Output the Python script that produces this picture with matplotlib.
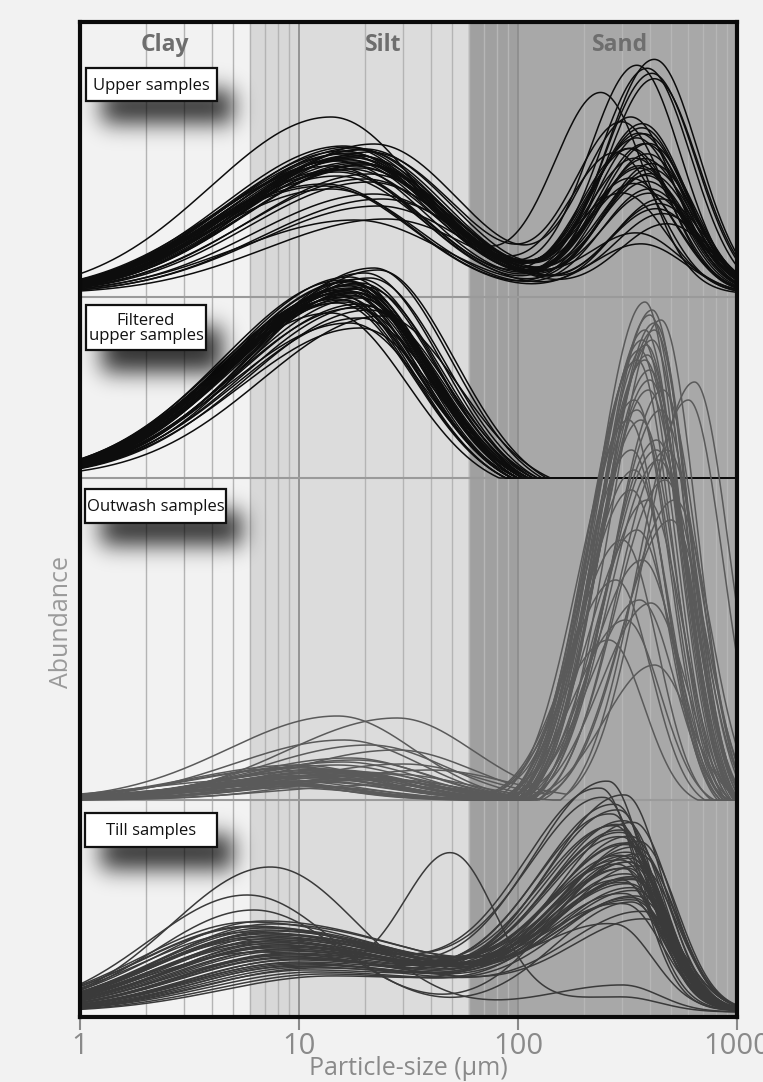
import matplotlib.pyplot as plt
import numpy as np
from matplotlib.patches import Rectangle

plt.rcParams['font.family'] = ['Open Sans', 'DejaVu Sans']

# grain-size modes: mode size in um, height in px above panel baseline
upper_silt_mode = [16, 18, 14, 20, 17, 22, 15, 19, 13, 21, 18, 16, 24, 17, 15, 20, 19, 14, 18, 23,
                   16, 21, 17, 19, 15, 18, 20, 22, 16, 14, 19, 17, 25, 18, 15, 21, 17, 20, 13, 18]
upper_silt_height = [140, 132, 177, 145, 125, 150, 118, 138, 110, 142, 128, 135, 95, 147, 122, 130, 144, 105, 136, 88,
                     148, 120, 141, 126, 133, 139, 115, 100, 143, 128, 131, 137, 75, 146, 124, 112, 134, 129, 108, 74]
upper_sand_mode = [380, 350, 240, 420, 400, 330, 450, 360, 390, 300, 410, 340, 370, 430, 320, 390, 360, 400, 480, 350,
                   380, 410, 300, 440, 370, 330, 395, 350, 420, 360, 385, 280, 400, 345, 375, 460, 330, 390, 365, 405]
upper_sand_height = [150, 228, 200, 234, 120, 175, 95, 160, 140, 170, 130, 110, 165, 85, 145, 225, 125, 105, 70, 155,
                     135, 220, 100, 90, 170, 115, 150, 60, 215, 128, 118, 140, 100, 135, 160, 80, 145, 112, 50, 125]

filtered_mode = [17, 18, 16, 19, 15, 20, 17, 18, 16, 21, 14, 19, 18, 17, 22, 16, 18, 19, 15, 17,
                 20, 18, 16, 19, 17, 23, 18, 16, 20, 17, 19, 15, 18, 21, 17, 16, 19, 18, 24, 17]
filtered_height = [190, 185, 198, 180, 175, 205, 192, 170, 188, 200, 165, 195, 182, 187, 210, 178, 193, 160, 184, 196,
                   172, 189, 181, 199, 155, 208, 186, 176, 191, 183, 150, 179, 194, 168, 197, 186, 174, 189, 162, 201]

outwash_fine_mode = [12, 8, 15, 20, 10, 25, 6, 14, 15, 9, 18, 11, 16, 28, 7, 13, 22, 10, 17, 28, 12, 9, 15, 19,
                     11, 40, 14, 8, 16, 24, 13, 10, 18, 12, 21, 9, 15, 30, 11, 14, 17, 8, 13, 26, 12]
outwash_fine_height = [25, 18, 30, 22, 35, 15, 20, 28, 84, 12, 40, 24, 60, 82, 16, 30, 20, 32, 26, 50, 22, 19, 35, 28,
                       14, 30, 25, 17, 38, 21, 27, 33, 24, 18, 55, 15, 29, 36, 23, 20, 42, 16, 31, 26, 19]
outwash_sand_mode = [380, 420, 350, 450, 400, 320, 480, 370, 600, 340, 410, 390, 300, 460, 360, 430, 280, 400, 500, 350,
                     380, 440, 330, 420, 370, 640, 310, 390, 410, 360, 470, 340, 400, 260, 430, 380, 350, 520, 395, 365,
                     420, 330, 450, 385, 405]
outwash_sand_height = [498, 470, 440, 480, 420, 380, 350, 460, 400, 330, 490, 300, 260, 410, 450, 360, 220, 430, 280, 390,
                       470, 340, 310, 477, 240, 418, 180, 445, 460, 200, 320, 400, 485, 160, 350, 440, 270, 300, 410, 380,
                       135, 350, 390, 455, 197]

till_fine_mode = [7, 8, 6, 9, 7.5, 10, 6.5, 8, 12, 7, 9, 8.5, 6, 11, 7, 8, 9.5, 7, 6.5, 10, 8, 7.5, 13, 9, 6,
                  8, 7, 10.5, 8.5, 7, 9, 6.5, 11, 8, 7.5, 9, 12, 7, 8, 10, 6, 8.5, 7, 9.5, 14, 8, 7]
till_fine_height = [70, 62, 80, 55, 88, 48, 75, 66, 40, 84, 58, 72, 90, 45, 68, 77, 52, 82, 60, 50, 74, 64, 38, 57, 86,
                    69, 79, 47, 63, 91, 54, 73, 42, 67, 81, 59, 44, 76, 65, 53, 85, 61, 71, 49, 36, 56, 78]
till_sand_mode = [320, 300, 340, 280, 330, 360, 310, 290, 350, 320, 260, 340, 300, 380, 330, 310, 270, 350, 320, 290,
                  340, 300, 360, 310, 330, 250, 320, 340, 300, 310, 390, 330, 290, 320, 350, 280, 310, 340, 300, 330,
                  320, 360, 240, 310, 340, 300, 280]
till_sand_height = [150, 175, 130, 200, 120, 165, 185, 140, 110, 160, 222, 125, 145, 95, 170, 135, 190, 115, 155, 180,
                    105, 150, 140, 210, 128, 205, 162, 118, 172, 100, 88, 148, 195, 137, 158, 178, 122, 108, 168, 143,
                    132, 152, 215, 112, 183, 126, 80]
# odd till samples with narrower fine modes and an extra 50 um mode
till_odd_fine_mode = [7.4, 5.8, 6.2, 9.0]
till_odd_fine_height = [145, 117, 102, 45]
till_odd_mid_height = [0, 0, 0, 150]
till_odd_sand_mode = [300, 330, 320, 300]
till_odd_sand_height = [27, 110, 150, 15]

panel_labels = ['Upper samples', 'Filtered\nupper samples', 'Outwash samples', 'Till samples']
zone_labels = ['Clay', 'Silt', 'Sand']


def mode(lx, mu, h, s_left, s_right, cut_left=0.0, cut_right=0.0):
    d = lx - np.log10(mu)
    s = np.where(d < 0, s_left, s_right)
    c = np.where(d < 0, cut_left, cut_right)
    g = np.exp(-0.5 * (d / s) ** 2)
    return h * np.clip((g - c) / (1 - c), 0, None)


x = np.logspace(0, 3, 500)
lx = np.log10(x)

W, H = 763, 1082
fig = plt.figure(figsize=(W / 100, H / 100), dpi=100, facecolor='#f2f2f2')
ax = fig.add_axes([80 / W, 1 - 1017 / H, 657 / W, 995 / H])
ax.set_xscale('log')
ax.set_xlim(1, 1000)
ax.set_ylim(0, 995)

# size-class shading
ax.axvspan(1, 6, color='#f2f2f2', zorder=0)
ax.axvspan(6, 10, color='#d8d8d8', zorder=0)
ax.axvspan(10, 60, color='#dcdcdc', zorder=0)
ax.axvspan(60, 100, color='#a0a0a0', zorder=0)
ax.axvspan(100, 1000, color='#a8a8a8', zorder=0)
for e in [1, 10, 100]:
    for k in range(1, 10):
        v = k * e
        if v == 1:
            continue
        if v in (10, 100):
            col, lw = '#8e8e8e', 1.3
        elif v < 60:
            col, lw = '#b4b4b4', 1.0
        else:
            col, lw = '#b6b6b6', 1.0
        ax.axvline(v, color=col, lw=lw, zorder=0.5)

# panel separators
for yb in [720, 539, 217]:
    ax.axhline(yb, color='#9a9a9a', lw=1.5, zorder=0.6)

base_upper, base_filt, base_out, base_till = 723, 539, 217, 5
lw_c = 1.1

for mf, hf, ms, hs in zip(upper_silt_mode, upper_silt_height, upper_sand_mode, upper_sand_height):
    y = mode(lx, mf, hf, 0.55, 0.4) + mode(lx, ms, hs, 0.22, 0.2)
    ax.plot(x, base_upper + y, color='#0d0d0d', lw=lw_c, zorder=2)

for mf, hf in zip(filtered_mode, filtered_height):
    y = mode(lx, mf, hf, 0.55, 0.35, 0.0, 0.09)
    ax.plot(x, base_filt + y, color='#0d0d0d', lw=lw_c, zorder=2)

for mf, hf, ms, hs in zip(outwash_fine_mode, outwash_fine_height, outwash_sand_mode, outwash_sand_height):
    y = mode(lx, mf, hf, 0.5, 0.35, 0.0, 0.02) + mode(lx, ms, hs, 0.23, 0.16, 0.04, 0.04)
    ax.plot(x, base_out + y, color='#5a5a5a', lw=lw_c, zorder=3)

for mf, hf, ms, hs in zip(till_fine_mode, till_fine_height, till_sand_mode, till_sand_height):
    y = mode(lx, mf, hf, 0.5, 0.75) + mode(lx, ms, hs, 0.35, 0.17)
    ax.plot(x, base_till + y, color='#3a3a3a', lw=lw_c, zorder=4)

for mf, hf, hm, ms, hs in zip(till_odd_fine_mode, till_odd_fine_height, till_odd_mid_height,
                              till_odd_sand_mode, till_odd_sand_height):
    y = mode(lx, mf, hf, 0.45, 0.4) + mode(lx, 50, hm, 0.22, 0.2) + mode(lx, ms, hs, 0.35, 0.17)
    ax.plot(x, base_till + y, color='#3a3a3a', lw=lw_c, zorder=4)

for sp in ax.spines.values():
    sp.set_linewidth(3)
    sp.set_color('#0a0a0a')
    sp.set_zorder(10)
ax.set_xticks([1, 10, 100, 1000])
ax.set_xticklabels(['1', '10', '100', '1000'])
ax.minorticks_off()
ax.set_yticks([])
ax.tick_params(axis='x', direction='out', length=9, width=1.5, color='#8a8a8a',
               labelcolor='#8a8a8a', labelsize=21, pad=2)
ax.set_xlabel('Particle-size (µm)', fontsize=18, color='#8a8a8a', labelpad=-4)

# overlay in pixel coordinates for labels and boxes
ov = fig.add_axes([0, 0, 1, 1])
ov.patch.set_alpha(0)
ov.axis('off')


def shadow(x0, y0, x1, y1, dx=16, dy=22, blur=11.0, alpha=0.8):
    pad = 50
    xl, xr = int(x0 - pad), int(x1 + dx + pad)
    yt, yb = int(y0 - pad), int(y1 + dy + pad)
    m = np.zeros((yb - yt, xr - xl))
    m[int(y0 + dy - yt):int(y1 + dy - yt), int(x0 + dx - xl):int(x1 + dx - xl)] = 1.0
    k = np.arange(-40, 41)
    k = np.exp(-0.5 * (k / blur) ** 2)
    k /= k.sum()
    m = np.apply_along_axis(lambda r: np.convolve(r, k, mode='same'), 1, m)
    m = np.apply_along_axis(lambda c: np.convolve(c, k, mode='same'), 0, m)
    rgba = np.zeros(m.shape + (4,))
    rgba[..., 3] = m * alpha
    ov.imshow(rgba, extent=(xl, xr, yb, yt), origin='upper', aspect='auto', zorder=1, interpolation='bilinear')


boxes = [(86, 68, 217, 101), (86, 305, 206, 350), (85, 489, 226, 523), (85, 813, 217, 847)]
for (x0, y0, x1, y1), lab in zip(boxes, panel_labels):
    shadow(x0, y0, x1, y1)
    ov.add_patch(Rectangle((x0, y0), x1 - x0, y1 - y0, facecolor='white', edgecolor='#111111', lw=1.6, zorder=2))
    ov.text((x0 + x1) / 2, (y0 + y1) / 2 + 1, lab, ha='center', va='center', fontsize=12,
            linespacing=0.92, color='#111111', zorder=3)

for xp, lab in zip([165, 383, 620], zone_labels):
    ov.text(xp, 45, lab, ha='center', va='center', fontsize=16.5, fontweight='bold', color='#6e6e6e', zorder=3)

ov.text(62, 622, 'Abundance', rotation=90, ha='center', va='center', fontsize=18, color='#9a9a9a')

ov.set_xlim(0, W)
ov.set_ylim(H, 0)

fig.savefig('out.png', dpi=100, facecolor=fig.get_facecolor())
